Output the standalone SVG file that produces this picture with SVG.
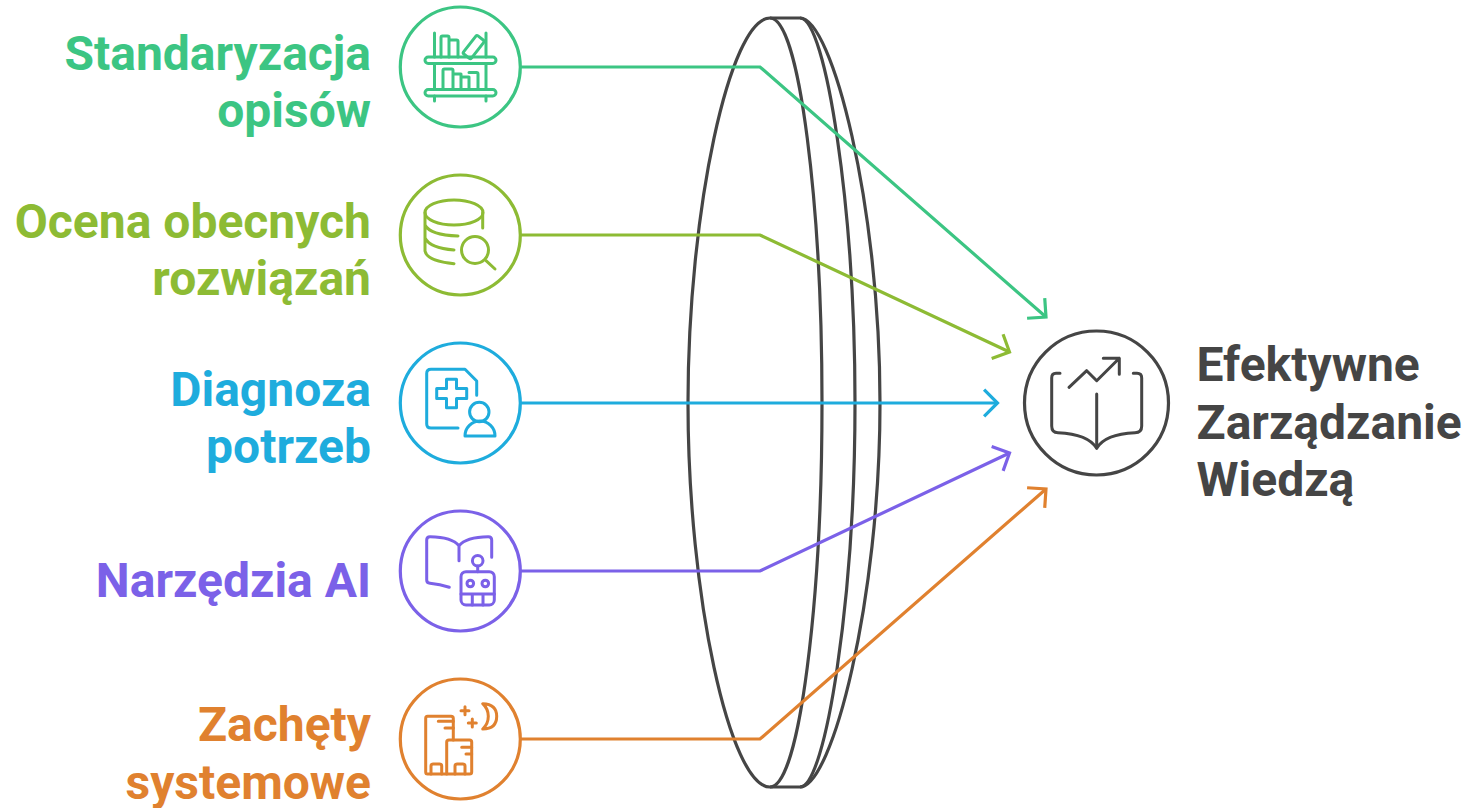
<svg xmlns="http://www.w3.org/2000/svg" width="1470" height="808" viewBox="0 0 1470 808">
<defs>
<style>
text{font-family:Roboto,"Liberation Sans",sans-serif;font-weight:700;font-size:48px}
.l{text-anchor:end}
.ring{fill:#fff;stroke-width:3.200}
.ic{fill:none;stroke-width:3;stroke-linecap:round;stroke-linejoin:round}
.c{fill:none;stroke-width:3.200}
.g{stroke:#3CC583}.gt{fill:#3CC583;stroke:none}
.y{stroke:#8DBB34}.yt{fill:#8DBB34;stroke:none}
.b{stroke:#1EACDD}.bt{fill:#1EACDD;stroke:none}
.p{stroke:#7B61E8}.pt{fill:#7B61E8;stroke:none}
.o{stroke:#E0812F}.ot{fill:#E0812F;stroke:none}
.k{stroke:#454545}.kt{fill:#454545;stroke:none}
</style>
<marker id="ag" markerUnits="userSpaceOnUse" markerWidth="30" markerHeight="40" refX="20" refY="20" orient="auto" overflow="visible"><path d="M6.600 6.600L20 20L6.600 33.400" fill="none" stroke="#3CC583" stroke-width="3.200"/></marker>
<marker id="ay" markerUnits="userSpaceOnUse" markerWidth="30" markerHeight="40" refX="20" refY="20" orient="auto" overflow="visible"><path d="M6.600 6.600L20 20L6.600 33.400" fill="none" stroke="#8DBB34" stroke-width="3.200"/></marker>
<marker id="ab" markerUnits="userSpaceOnUse" markerWidth="30" markerHeight="40" refX="20" refY="20" orient="auto" overflow="visible"><path d="M6.600 6.600L20 20L6.600 33.400" fill="none" stroke="#1EACDD" stroke-width="3.200"/></marker>
<marker id="ap" markerUnits="userSpaceOnUse" markerWidth="30" markerHeight="40" refX="20" refY="20" orient="auto" overflow="visible"><path d="M6.600 6.600L20 20L6.600 33.400" fill="none" stroke="#7B61E8" stroke-width="3.200"/></marker>
<marker id="ao" markerUnits="userSpaceOnUse" markerWidth="30" markerHeight="40" refX="20" refY="20" orient="auto" overflow="visible"><path d="M6.600 6.600L20 20L6.600 33.400" fill="none" stroke="#E0812F" stroke-width="3.200"/></marker>
</defs>
<g id="lens" fill="none" stroke="#454545" stroke-width="3.200">
<path d="M770 18C730 18 688 210 688 403C688 596 730 787 770 787C800 787 822 596 822 403C822 210 800 18 770 18Z" fill="#fff"/>
<path d="M770 18H800C826 18 855 210 855 403C855 596 826 787 800 787H770"/>
<path d="M800 18C832 18 880 205 880 403C880 601 832 787 800 787"/>
</g>
<g id="connectors">
<path class="c g" marker-end="url(#ag)" d="M521 67H760L1046 317"/>
<path class="c y" marker-end="url(#ay)" d="M521 235H760L1009.500 352"/>
<path class="c b" marker-end="url(#ab)" d="M521 403H997.500"/>
<path class="c p" marker-end="url(#ap)" d="M521 571H760L1009.500 453"/>
<path class="c o" marker-end="url(#ao)" d="M521 739H760L1046 489"/>
</g>
<g id="node-standaryzacja">
<circle class="ring g" cx="460.300" cy="67" r="60"/>
<g class="ic g">
<rect x="425" y="57" width="71" height="6.500" rx="3.200"/><rect x="425" y="89.500" width="71" height="6.500" rx="3.200"/>
<path d="M434.500 33V57M434.500 63.500V89.500M434.500 96V101M486 33V57M486 63.500V89.500M486 96V101"/>
<path d="M441 57V37.500Q441 36 442.500 36H447.500Q449 36 449 37.500V57M449 40H456.500Q458 40 458 41.500V57"/>
<rect x="-4" y="-10.500" width="10" height="23" rx="1.500" transform="translate(473.500 45.700) rotate(38)"/>
<path d="M443 89V70.500Q443 69 444.500 69H451.500Q453 69 453 70.500V89M453 74H461V89M461 77H469V89M469 72.500H476.500Q478 72.500 478 74V89"/>
</g>
<text class="l gt" x="371" y="69.500">Standaryzacja</text>
<text class="l gt" x="371" y="127">opisów</text>
</g>
<g id="node-ocena">
<circle class="ring y" cx="460.300" cy="235" r="60"/>
<g class="ic y">
<ellipse cx="454" cy="212.500" rx="29" ry="12.500"/>
<path d="M425 212.500V251Q427 261 454 263.700M482.700 212.500V228M425 225Q430 235 458 236M425 238Q430 248 454 250"/>
<circle cx="475" cy="250" r="13.500"/>
<path d="M486 260.700L495 269"/>
</g>
<text class="l yt" x="371" y="237.500">Ocena obecnych</text>
<text class="l yt" x="371" y="295">rozwiązań</text>
</g>
<g id="node-diagnoza">
<circle class="ring b" cx="460.300" cy="403" r="60"/>
<g class="ic b">
<path d="M458 428H431Q426.700 428 426.700 424V373.500Q426.700 369.300 431 369.300H465L476.700 381V395.300"/>
<path d="M446.500 379.300H456.500V388.500H466.700V398.500H456.500V407.700H446.500V398.500H436.700V388.500H446.500Z"/>
<circle cx="479.300" cy="412" r="9.700"/>
<path d="M465 436A15 15 0 0 1 495 436Z"/>
</g>
<text class="l bt" x="371" y="405.500">Diagnoza</text>
<text class="l bt" x="371" y="463">potrzeb</text>
</g>
<g id="node-narzedzia">
<circle class="ring p" cx="460.300" cy="571" r="60"/>
<g class="ic p">
<path d="M449.300 587.300Q440 584.500 430 583.300Q426.700 583 426.700 580V540Q426.700 536.700 430 536.700Q452 537 459 545.700Q466 537 488.300 536.700Q491.700 536.700 491.700 540V557.300M459 545.700V560.700"/>
<rect x="461" y="571.700" width="33.300" height="33.300" rx="5"/>
<circle cx="477.700" cy="560.700" r="5.300"/>
<path d="M477.700 566V571.700M461 594H494.300M472.300 594V605M483 594V605"/>
<circle cx="470.300" cy="583.500" r="3.300"/><circle cx="485.300" cy="583.500" r="3.300"/>
</g>
<text class="l pt" x="371" y="597">Narzędzia AI</text>
</g>
<g id="node-zachety">
<circle class="ring o" cx="460.300" cy="739" r="60"/>
<g class="ic o">
<path d="M446.700 774H427.500Q425.700 774 425.700 772V718.500Q425.700 716.300 427.500 716.300H451Q453.300 716.300 453.300 718.500V740"/>
<path d="M446.700 774V742Q446.700 740 449 740H469.500Q471.700 740 471.700 742V772Q471.700 774 469.500 774H446.700Z"/>
<path d="M431 774V766Q431 764 433 764H439.700Q441.700 764 441.700 766V774M455 774V766Q455 764 457 764H463Q465 764 465 766V774"/>
<path d="M438.300 721.300H453.300M445 728H453.300M461.700 747.300H471.700M466 754H471.700"/>
<path d="M461 710.700H469M465 706.700V714.700M468.300 723H476.300M472.300 719V727"/>
<path d="M482.700 703.700Q496.700 704 496.700 716.300Q496.700 729 482.700 729Q488.300 724 488.300 716.300Q488.300 709 482.700 703.700Z"/>
</g>
<text class="l ot" x="371" y="741">Zachęty</text>
<text class="l ot" x="371" y="798.600">systemowe</text>
</g>
<g id="node-efektywne">
<circle class="ring k" cx="1096.500" cy="403" r="72"/>
<g class="ic k">
<path d="M1060 373.300H1056Q1051.700 373.300 1051.700 378V426Q1051.700 432.700 1058 432.700Q1088 434 1096.700 448.300Q1105 434 1135 432.700Q1141.700 432.700 1141.700 426V378Q1141.700 373.300 1137 373.300H1133.300"/>
<path d="M1096.700 394V448M1069 387.300L1086.700 370.700L1096.700 380.700L1119.300 358.300M1103.300 358.300H1119.300V374.300"/>
</g>
<text class="kt" x="1196.500" y="381">Efektywne</text>
<text class="kt" x="1196.500" y="438.600">Zarządzanie</text>
<text class="kt" x="1196.500" y="496.200">Wiedzą</text>
</g>
</svg>
